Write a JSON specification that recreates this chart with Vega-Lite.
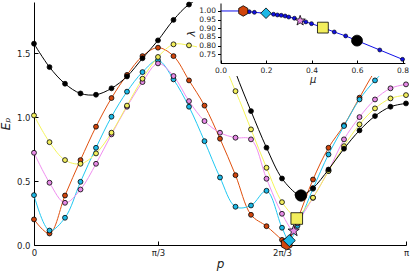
{
  "$schema": "https://vega.github.io/schema/vega-lite/v6.json",
  "width": 372,
  "height": 243,
  "autosize": "none",
  "padding": {"left": 34, "top": 2, "right": 5, "bottom": 29},
  "background": "white",
  "config": {"view": {"stroke": null}, "font": "DejaVu Sans", "axis": {"grid": false, "domainColor": "black", "tickColor": "black", "labelColor": "#222222", "titleColor": "#222222", "titleFontWeight": "normal", "labelFlush": false}},
  "datasets": {
    "curves": [
      {"s":"0.1","p":0,"e":0.2,"m":0},{"s":"0.1","p":0.1309,"e":0.09,"m":0},{"s":"0.1","p":0.2618,"e":0.387,"m":0},{"s":"0.1","p":0.3927,"e":0.664,"m":0},{"s":"0.1","p":0.5236,"e":0.925,"m":0},{"s":"0.1","p":0.6545,"e":1.149,"m":0},{"s":"0.1","p":0.7854,"e":1.33,"m":0},{"s":"0.1","p":0.9163,"e":1.477,"m":0},{"s":"0.1","p":1.0472,"e":1.543,"m":0},{"s":"0.1","p":1.1781,"e":1.477,"m":0},{"s":"0.1","p":1.309,"e":1.287,"m":0},{"s":"0.1","p":1.4399,"e":1.09,"m":0},{"s":"0.1","p":1.5708,"e":0.831,"m":0},{"s":"0.1","p":1.7017,"e":0.546,"m":0},{"s":"0.1","p":1.8326,"e":0.236,"m":0},{"s":"0.1","p":1.9635,"e":0.147,"m":0},{"s":"0.1","p":2.0944,"e":0.04,"m":0},{"s":"0.1","p":2.134,"e":0.01,"m":1},{"s":"0.1","p":2.2253,"e":0.2,"m":0},{"s":"0.1","p":2.3562,"e":0.512,"m":0},{"s":"0.1","p":2.4871,"e":0.76,"m":0},{"s":"0.1","p":2.618,"e":0.937,"m":0},{"s":"0.1","p":2.7489,"e":1.152,"m":0},{"s":"0.1","p":2.8798,"e":1.36,"m":0},{"s":"0.1","p":3.0107,"e":1.52,"m":0},{"s":"0.1","p":3.1416,"e":1.6,"m":0},
      {"s":"0.2","p":0,"e":0.39,"m":0},{"s":"0.2","p":0.1309,"e":0.113,"m":0},{"s":"0.2","p":0.2618,"e":0.213,"m":0},{"s":"0.2","p":0.3927,"e":0.494,"m":0},{"s":"0.2","p":0.5236,"e":0.76,"m":0},{"s":"0.2","p":0.6545,"e":1.003,"m":0},{"s":"0.2","p":0.7854,"e":1.199,"m":0},{"s":"0.2","p":0.9163,"e":1.352,"m":0},{"s":"0.2","p":1.0472,"e":1.444,"m":0},{"s":"0.2","p":1.1781,"e":1.295,"m":0},{"s":"0.2","p":1.309,"e":1.081,"m":0},{"s":"0.2","p":1.4399,"e":0.812,"m":0},{"s":"0.2","p":1.5708,"e":0.528,"m":0},{"s":"0.2","p":1.7017,"e":0.299,"m":0},{"s":"0.2","p":1.8326,"e":0.309,"m":0},{"s":"0.2","p":1.9635,"e":0.424,"m":0},{"s":"0.2","p":2.0944,"e":0.135,"m":0},{"s":"0.2","p":2.156,"e":0.035,"m":1},{"s":"0.2","p":2.2253,"e":0.15,"m":0},{"s":"0.2","p":2.3562,"e":0.44,"m":0},{"s":"0.2","p":2.4871,"e":0.708,"m":0},{"s":"0.2","p":2.618,"e":0.93,"m":0},{"s":"0.2","p":2.7489,"e":1.138,"m":0},{"s":"0.2","p":2.8798,"e":1.287,"m":0},{"s":"0.2","p":3.0107,"e":1.4,"m":0},{"s":"0.2","p":3.1416,"e":1.46,"m":0},
      {"s":"0.35","p":0,"e":0.721,"m":0},{"s":"0.35","p":0.1309,"e":0.487,"m":0},{"s":"0.35","p":0.2618,"e":0.33,"m":0},{"s":"0.35","p":0.3927,"e":0.434,"m":0},{"s":"0.35","p":0.5236,"e":0.635,"m":0},{"s":"0.35","p":0.6545,"e":0.865,"m":0},{"s":"0.35","p":0.7854,"e":1.081,"m":0},{"s":"0.35","p":0.9163,"e":1.274,"m":0},{"s":"0.35","p":1.0472,"e":1.42,"m":0},{"s":"0.35","p":1.1781,"e":1.321,"m":0},{"s":"0.35","p":1.309,"e":1.125,"m":0},{"s":"0.35","p":1.4399,"e":0.969,"m":0},{"s":"0.35","p":1.5708,"e":0.878,"m":0},{"s":"0.35","p":1.7017,"e":0.839,"m":0},{"s":"0.35","p":1.8326,"e":0.826,"m":0},{"s":"0.35","p":1.9635,"e":0.518,"m":0},{"s":"0.35","p":2.0944,"e":0.244,"m":0},{"s":"0.35","p":2.193,"e":0.11,"m":1},{"s":"0.35","p":2.2253,"e":0.17,"m":0},{"s":"0.35","p":2.3562,"e":0.369,"m":0},{"s":"0.35","p":2.4871,"e":0.58,"m":0},{"s":"0.35","p":2.618,"e":0.826,"m":0},{"s":"0.35","p":2.7489,"e":1.0,"m":0},{"s":"0.35","p":2.8798,"e":1.138,"m":0},{"s":"0.35","p":3.0107,"e":1.225,"m":0},{"s":"0.35","p":3.1416,"e":1.256,"m":0},
      {"s":"0.45","p":0,"e":1.013,"m":0},{"s":"0.45","p":0.1309,"e":0.804,"m":0},{"s":"0.45","p":0.2618,"e":0.664,"m":0},{"s":"0.45","p":0.3927,"e":0.635,"m":0},{"s":"0.45","p":0.5236,"e":0.716,"m":0},{"s":"0.45","p":0.6545,"e":0.878,"m":0},{"s":"0.45","p":0.7854,"e":1.09,"m":0},{"s":"0.45","p":0.9163,"e":1.3,"m":0},{"s":"0.45","p":1.0472,"e":1.47,"m":0},{"s":"0.45","p":1.1781,"e":1.569,"m":0},{"s":"0.45","p":1.309,"e":1.561,"m":0},{"s":"0.45","p":1.4399,"e":1.53,"m":0},{"s":"0.45","p":1.5708,"e":1.45,"m":0},{"s":"0.45","p":1.7017,"e":1.203,"m":0},{"s":"0.45","p":1.8326,"e":0.904,"m":0},{"s":"0.45","p":1.9635,"e":0.604,"m":0},{"s":"0.45","p":2.0944,"e":0.335,"m":0},{"s":"0.45","p":2.219,"e":0.207,"m":1},{"s":"0.45","p":2.2253,"e":0.212,"m":0},{"s":"0.45","p":2.3562,"e":0.37,"m":0},{"s":"0.45","p":2.4871,"e":0.578,"m":0},{"s":"0.45","p":2.618,"e":0.773,"m":0},{"s":"0.45","p":2.7489,"e":0.943,"m":0},{"s":"0.45","p":2.8798,"e":1.068,"m":0},{"s":"0.45","p":3.0107,"e":1.146,"m":0},{"s":"0.45","p":3.1416,"e":1.172,"m":0},
      {"s":"0.6","p":0,"e":1.574,"m":0},{"s":"0.6","p":0.1309,"e":1.391,"m":0},{"s":"0.6","p":0.2618,"e":1.261,"m":0},{"s":"0.6","p":0.3927,"e":1.185,"m":0},{"s":"0.6","p":0.5236,"e":1.175,"m":0},{"s":"0.6","p":0.6545,"e":1.225,"m":0},{"s":"0.6","p":0.7854,"e":1.318,"m":0},{"s":"0.6","p":0.9163,"e":1.46,"m":0},{"s":"0.6","p":1.0472,"e":1.6,"m":0},{"s":"0.6","p":1.1781,"e":1.76,"m":0},{"s":"0.6","p":1.309,"e":1.88,"m":0},{"s":"0.6","p":1.4399,"e":1.93,"m":0},{"s":"0.6","p":1.5708,"e":1.7,"m":0},{"s":"0.6","p":1.7017,"e":1.35,"m":0},{"s":"0.6","p":1.8326,"e":1.047,"m":0},{"s":"0.6","p":1.9635,"e":0.761,"m":0},{"s":"0.6","p":2.0944,"e":0.52,"m":0},{"s":"0.6","p":2.2253,"e":0.395,"m":0},{"s":"0.6","p":2.255,"e":0.387,"m":1},{"s":"0.6","p":2.3562,"e":0.445,"m":0},{"s":"0.6","p":2.4871,"e":0.59,"m":0},{"s":"0.6","p":2.618,"e":0.753,"m":0},{"s":"0.6","p":2.7489,"e":0.896,"m":0},{"s":"0.6","p":2.8798,"e":1.008,"m":0},{"s":"0.6","p":3.0107,"e":1.081,"m":0},{"s":"0.6","p":3.1416,"e":1.107,"m":0}
    ],
    "inset": [
      {"mu":0,"lam":1.0,"m":"none","s":"-"},
      {"mu":0.1,"lam":1.0,"m":"big","s":"0.1"},
      {"mu":0.126,"lam":0.996,"m":"dot","s":"-"},
      {"mu":0.149,"lam":0.992,"m":"dot","s":"-"},
      {"mu":0.2,"lam":0.987,"m":"big","s":"0.2"},
      {"mu":0.233,"lam":0.981,"m":"dot","s":"-"},
      {"mu":0.25,"lam":0.977,"m":"dot","s":"-"},
      {"mu":0.267,"lam":0.975,"m":"dot","s":"-"},
      {"mu":0.284,"lam":0.971,"m":"dot","s":"-"},
      {"mu":0.3,"lam":0.965,"m":"dot","s":"-"},
      {"mu":0.325,"lam":0.958,"m":"dot","s":"-"},
      {"mu":0.35,"lam":0.944,"m":"big","s":"0.35"},
      {"mu":0.375,"lam":0.937,"m":"dot","s":"-"},
      {"mu":0.4,"lam":0.927,"m":"dot","s":"-"},
      {"mu":0.45,"lam":0.904,"m":"big","s":"0.45"},
      {"mu":0.5,"lam":0.879,"m":"dot","s":"-"},
      {"mu":0.55,"lam":0.856,"m":"dot","s":"-"},
      {"mu":0.6,"lam":0.829,"m":"big","s":"0.6"},
      {"mu":0.7,"lam":0.775,"m":"dot","s":"-"},
      {"mu":0.8,"lam":0.721,"m":"dot","s":"-"}
    ]
  },
  "layer": [
    {
      "data": {"name": "curves"},
      "encoding": {
        "x": {"field": "p", "type": "quantitative", "scale": {"domain": [0, 3.141593], "nice": false, "zero": false},
          "axis": {"orient": "bottom", "values": [0, 1.047198, 2.094395, 3.141593], "labelExpr": "datum.value < 0.5 ? '0' : datum.value < 1.5 ? 'π/3' : datum.value < 2.5 ? '2π/3' : 'π'", "title": "p", "titleFontStyle": "italic", "titleFontSize": 12, "labelFontSize": 8.5, "tickSize": -4, "labelPadding": 7, "titlePadding": 2}},
        "y": {"field": "e", "type": "quantitative", "scale": {"domain": [0, 1.9], "nice": false},
          "axis": {"orient": "left", "values": [0, 0.5, 1, 1.5], "format": ".1f", "title": "Eₚ", "titleFontStyle": "italic", "titleFontSize": 12, "labelFontSize": 8.5, "tickSize": -4, "labelPadding": 8, "titlePadding": 4}}
      },
      "layer": [
        {"mark": {"type": "line", "interpolate": "catmull-rom", "clip": true, "strokeWidth": 1},
         "encoding": {"stroke": {"field": "s", "type": "nominal", "scale": {"domain": ["0.1","0.2","0.35","0.45","0.6"], "range": ["#e0500e","#20c8f2","#f08ef0","#f5f55a","#000000"]}, "legend": null}}},
        {"transform": [{"filter": "datum.m == 0"}],
         "mark": {"type": "point", "shape": "circle", "filled": true, "stroke": "black", "strokeWidth": 0.8, "size": 24, "opacity": 1},
         "encoding": {"fill": {"field": "s", "type": "nominal", "scale": {"domain": ["0.1","0.2","0.35","0.45","0.6"], "range": ["#d0450c","#1cb8e6","#e68ae6","#f2ee5c","#000000"]}, "legend": null}, "stroke": {"value": "black"}}},
        {"transform": [{"filter": "datum.m == 1"}],
         "mark": {"type": "point", "filled": true, "strokeWidth": 0.8, "opacity": 1},
         "encoding": {
           "fill": {"field": "s", "type": "nominal", "scale": {"domain": ["0.1","0.2","0.35","0.45","0.6"], "range": ["#d0450c","#1cb8e6","#e68ae6","#f2ee5c","#000000"]}, "legend": null},
           "stroke": {"value": "black"},
           "shape": {"field": "s", "type": "nominal", "scale": {"domain": ["0.1","0.2","0.35","0.45","0.6"], "range": ["M0,-1L0.866,-0.5L0.866,0.5L0,1L-0.866,0.5L-0.866,-0.5Z", "diamond", "M0,-1L0.235,-0.324L0.951,-0.309L0.38,0.124L0.588,0.809L0,0.4L-0.588,0.809L-0.38,0.124L-0.951,-0.309L-0.235,-0.324Z", "square", "circle"]}, "legend": null},
           "size": {"field": "s", "type": "nominal", "scale": {"domain": ["0.1","0.2","0.35","0.45","0.6"], "range": [150, 130, 90, 105, 120]}, "legend": null}
         }}
      ]
    },
    {
      "data": {"name": "inset"},
      "encoding": {
        "x": {"field": "mu", "type": "quantitative", "scale": {"domain": [0, 0.81], "range": [186.5, 370.8], "nice": false, "zero": false},
          "axis": {"orient": "bottom", "offset": -182, "values": [0, 0.2, 0.4, 0.6, 0.8], "format": ".1f", "title": "μ", "titleFontStyle": "italic", "titleFontSize": 10, "labelFontSize": 7.5, "tickSize": -3, "labelPadding": 6, "titlePadding": 1, "zindex": 2}},
        "y": {"field": "lam", "type": "quantitative", "scale": {"domain": [0.7, 1.046], "range": [61, 1], "nice": false, "zero": false},
          "axis": {"orient": "left", "offset": -186.5, "values": [0.75, 0.8, 0.85, 0.9, 0.95, 1.0], "format": ".2f", "title": "λ", "titleFontStyle": "italic", "titleFontSize": 10, "labelFontSize": 7.5, "tickSize": 3, "labelPadding": 2, "titlePadding": 2, "zindex": 2}}
      },
      "layer": [
        {"mark": {"type": "rect", "fill": "white", "stroke": null},
         "encoding": {"x": {"datum": -0.103}, "x2": {"datum": 0.84}, "y": {"datum": 1.0635}, "y2": {"datum": 0.625}}},
        {"mark": {"type": "line", "stroke": "#1010e8", "strokeWidth": 1}, "encoding": {"order": {"field": "mu"}}},
        {"transform": [{"filter": "datum.m == 'dot'"}],
         "mark": {"type": "point", "shape": "circle", "filled": true, "fill": "#1010e0", "stroke": "black", "strokeWidth": 0.6, "size": 16, "opacity": 1}},
        {"transform": [{"filter": "datum.m == 'big'"}],
         "mark": {"type": "point", "filled": true, "strokeWidth": 0.8, "opacity": 1},
         "encoding": {
           "fill": {"field": "s", "type": "nominal", "scale": {"domain": ["0.1","0.2","0.35","0.45","0.6"], "range": ["#d0450c","#1cb8e6","#e68ae6","#f2ee5c","#000000"]}, "legend": null},
           "stroke": {"value": "black"},
           "shape": {"field": "s", "type": "nominal", "scale": {"domain": ["0.1","0.2","0.35","0.45","0.6"], "range": ["M0,-1L0.866,-0.5L0.866,0.5L0,1L-0.866,0.5L-0.866,-0.5Z", "diamond", "M0,-1L0.235,-0.324L0.951,-0.309L0.38,0.124L0.588,0.809L0,0.4L-0.588,0.809L-0.38,0.124L-0.951,-0.309L-0.235,-0.324Z", "square", "circle"]}, "legend": null},
           "size": {"field": "s", "type": "nominal", "scale": {"domain": ["0.1","0.2","0.35","0.45","0.6"], "range": [110, 120, 60, 120, 100]}, "legend": null}
         }}
      ]
    }
  ],
  "resolve": {"scale": {"x": "independent", "y": "independent", "fill": "independent", "shape": "independent", "size": "independent", "stroke": "independent"}, "axis": {"x": "independent", "y": "independent"}}
}
